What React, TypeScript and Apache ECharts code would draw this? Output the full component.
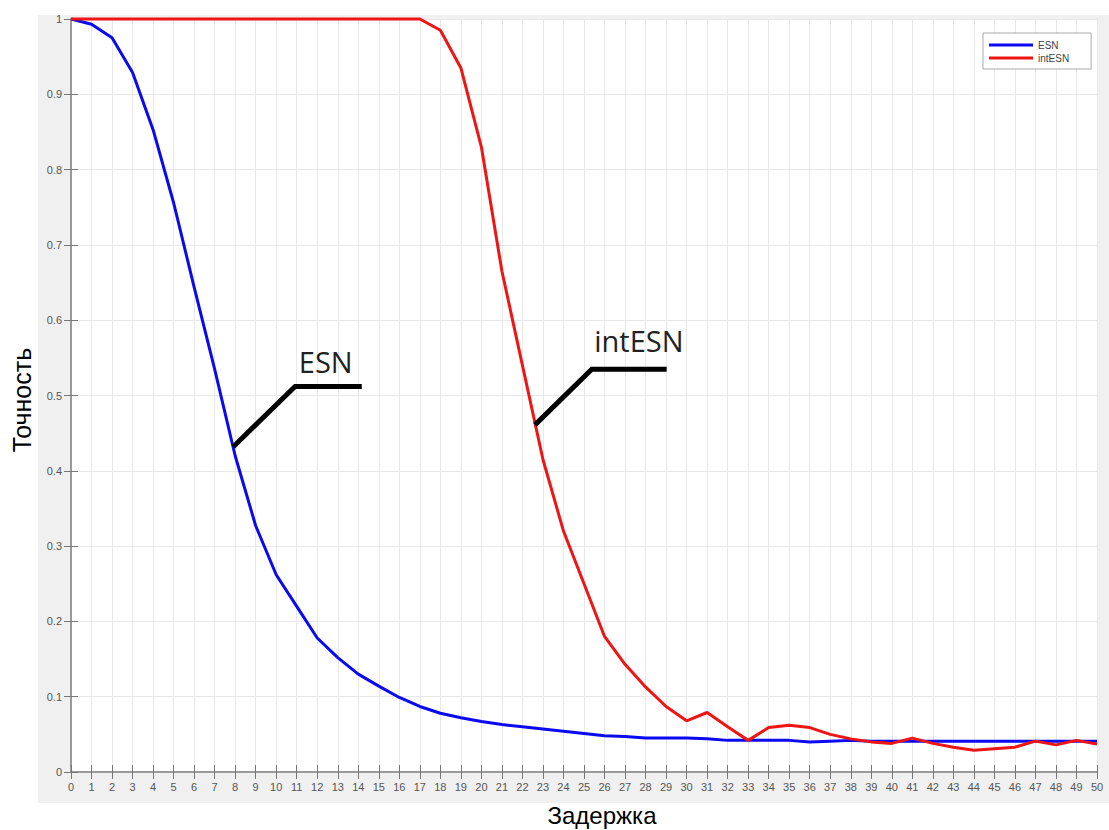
import React, { useEffect, useRef } from "react";
import * as echarts from "echarts";

const delays = [0,1,2,3,4,5,6,7,8,9,10,11,12,13,14,15,16,17,18,19,20,21,22,23,24,25,26,27,28,29,30,31,32,33,34,35,36,37,38,39,40,41,42,43,44,45,46,47,48,49,50];

const esnValues = [1.0,0.993,0.975,0.929,0.853,0.756,0.644,0.535,0.42,0.327,0.262,0.22,0.178,0.152,0.13,0.114,0.099,0.087,0.078,0.072,0.067,0.063,0.06,0.057,0.054,0.051,0.048,0.047,0.045,0.045,0.045,0.044,0.042,0.042,0.042,0.042,0.04,0.041,0.042,0.041,0.041,0.041,0.041,0.041,0.041,0.041,0.041,0.041,0.041,0.041,0.041];

const intEsnValues = [1,1,1,1,1,1,1,1,1,1,1,1,1,1,1,1,1,1,0.985,0.935,0.83,0.665,0.54,0.415,0.32,0.25,0.18,0.143,0.113,0.087,0.068,0.079,0.06,0.042,0.059,0.062,0.059,0.05,0.044,0.04,0.038,0.045,0.038,0.033,0.029,0.031,0.033,0.041,0.036,0.042,0.037];

const seriesNames = ["ESN", "intESN"];
const seriesColors = ["#0a0af0", "#ee1515"];

const xTitle = "Задержка";
const yTitle = "Точность";

// annotation callouts, in data coordinates
const esnCallout = [[7.91, 0.432], [10.92, 0.512], [14.17, 0.512]];
const esnLabelAt = [11.1, 0.545];
const intCallout = [[22.61, 0.461], [25.38, 0.535], [29.03, 0.535]];
const intLabelAt = [25.5, 0.573];

export default function App() {
  const ref = useRef<HTMLDivElement>(null);
  useEffect(() => {
    if (!ref.current) return;
    const chart = echarts.init(ref.current, undefined, { renderer: "svg" });
    const axisLineStyle = { color: "#9a9a9a", width: 2 };
    const tickStyle = { color: "#777", width: 1 };
    const makeLine = (vals: number[]) => delays.map((d, i) => [d, vals[i]]);
    chart.setOption({
      animation: false,
      backgroundColor: "#ffffff",
      grid: {
        left: 71,
        top: 19,
        right: 12,
        bottom: 58,
        show: true,
        backgroundColor: "#ffffff",
        borderWidth: 0,
      },
      legend: {
        data: seriesNames,
        orient: "vertical",
        left: 983,
        top: 33,
        padding: [6, 22, 5, 6],
        itemWidth: 44,
        itemHeight: 3,
        itemGap: 1,
        icon: "rect",
        selectedMode: false,
        backgroundColor: "#ffffff",
        borderColor: "#aaaaaa",
        borderWidth: 1,
        textStyle: { fontSize: 10, color: "#444", fontFamily: "Liberation Sans", lineHeight: 12 },
      },
      xAxis: [
        {
          type: "value",
          min: 0,
          max: 50,
          interval: 1,
          position: "bottom",
          axisLine: { show: true, lineStyle: axisLineStyle },
          axisTick: { show: true, inside: true, length: 7, lineStyle: tickStyle },
          axisLabel: { fontSize: 11, color: "#555", margin: 9, fontFamily: "Liberation Sans" },
          splitLine: { show: true, lineStyle: { color: "#e8e8e8", width: 1 } },
        },
        {
          type: "value",
          min: 0,
          max: 50,
          interval: 1,
          position: "top",
          axisLine: { show: true, lineStyle: axisLineStyle },
          axisTick: { show: true, inside: true, length: 7, lineStyle: tickStyle },
          axisLabel: { show: false },
          splitLine: { show: false },
        },
      ],
      yAxis: [
        {
          type: "value",
          min: 0,
          max: 1,
          interval: 0.1,
          position: "left",
          axisLine: { show: true, lineStyle: axisLineStyle },
          axisTick: { show: true, inside: true, length: 7, lineStyle: tickStyle },
          axisLabel: { fontSize: 11, color: "#555", margin: 9, fontFamily: "Liberation Sans" },
          splitLine: { show: true, lineStyle: { color: "#e8e8e8", width: 1 } },
        },
        {
          type: "value",
          min: 0,
          max: 1,
          interval: 0.1,
          position: "right",
          axisLine: { show: true, lineStyle: axisLineStyle },
          axisTick: { show: true, inside: true, length: 7, lineStyle: tickStyle },
          axisLabel: { show: false },
          splitLine: { show: false },
        },
      ],
      series: [
        {
          name: seriesNames[0],
          type: "line",
          data: makeLine(esnValues),
          showSymbol: false,
          symbol: "none",
          clip: false,
          lineStyle: { color: seriesColors[0], width: 3 },
          itemStyle: { color: seriesColors[0] },
          z: 3,
        },
        {
          name: seriesNames[1],
          type: "line",
          data: makeLine(intEsnValues),
          showSymbol: false,
          symbol: "none",
          clip: false,
          lineStyle: { color: seriesColors[1], width: 3 },
          itemStyle: { color: seriesColors[1] },
          z: 4,
        },
      ],
    });

    const px = (p: number[]) => chart.convertToPixel({ gridIndex: 0 }, p) as number[];
    const esnPts = esnCallout.map(px);
    const intPts = intCallout.map(px);
    const esnL = px(esnLabelAt);
    const intL = px(intLabelAt);

    chart.setOption({
      graphic: [
        {
          type: "rect",
          z: -10,
          silent: true,
          shape: { x: 38, y: 15, width: 1071, height: 788 },
          style: { fill: "#f0f0f0" },
        },
        {
          type: "text",
          z: 10,
          x: 602,
          y: 815,
          style: {
            text: xTitle,
            fontSize: 24,
            fontFamily: "Liberation Sans",
            fill: "#000",
            align: "center",
            verticalAlign: "middle",
          },
        },
        {
          type: "text",
          z: 10,
          x: 22,
          y: 400,
          rotation: Math.PI / 2,
          style: {
            text: yTitle,
            fontSize: 25,
            fontFamily: "Liberation Sans",
            fill: "#000",
            align: "center",
            verticalAlign: "middle",
          },
        },
        {
          type: "polyline",
          z: 20,
          shape: { points: esnPts },
          style: { stroke: "#000", lineWidth: 5, fill: "none" },
        },
        {
          type: "polyline",
          z: 20,
          shape: { points: intPts },
          style: { stroke: "#000", lineWidth: 5, fill: "none" },
        },
        {
          type: "text",
          z: 20,
          x: esnL[0],
          y: esnL[1],
          style: {
            text: "ESN",
            fontSize: 29,
            fontFamily: "Open Sans",
            fill: "#222",
            align: "left",
            verticalAlign: "middle",
          },
        },
        {
          type: "text",
          z: 20,
          x: intL[0],
          y: intL[1],
          style: {
            text: "intESN",
            fontSize: 29,
            fontFamily: "Open Sans",
            fill: "#222",
            align: "left",
            verticalAlign: "middle",
          },
        },
      ],
    });

    return () => chart.dispose();
  }, []);
  return (
    <div
      ref={ref}
      style={{ position: "absolute", left: 0, top: 0, width: 1109, height: 830 }}
    />
  );
}
